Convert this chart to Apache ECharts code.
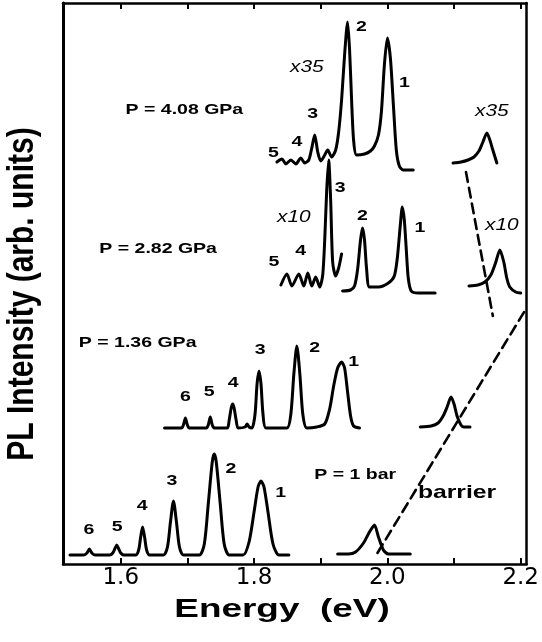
<!DOCTYPE html>
<html><head><meta charset="utf-8">
<script src="https://cdn.jsdelivr.net/npm/echarts@6/dist/echarts.min.js"></script>
<style>html,body{margin:0;padding:0;background:#fff}#c{width:542px;height:642px}</style>
</head><body><div id="c"></div>
<script>
// ---- data (energy in eV, PL intensity in arbitrary units) ----
const energyTicks = [1.6, 1.7, 1.8, 1.9, 2.0, 2.1, 2.2];
const energyTickLabels = [1.6, 1.8, 2.0, 2.2];

const spec1bar = [[1.5239,9],[1.5448,9],[1.5493,11],[1.5530,15],[1.5567,11],[1.5612,9],
 [1.5836,9],[1.5881,11],[1.5910,15],[1.5940,19],[1.5970,15],[1.6000,11],[1.6045,9],
 [1.6224,9],[1.6269,14],[1.6299,27],[1.6328,37],[1.6358,27],[1.6388,14],[1.6433,9],
 [1.6642,9],[1.6701,17],[1.6746,42],[1.6791,63],[1.6836,42],[1.6881,17],[1.6940,9],
 [1.7179,9],[1.7254,20],[1.7313,60],[1.7373,102],[1.7403,110],[1.7433,102],[1.7493,60],[1.7552,20],[1.7627,9],
 [1.7836,9],[1.7925,22],[1.8000,52],[1.8060,77],[1.8104,83],[1.8149,77],[1.8209,52],[1.8284,20],[1.8373,9],
 [1.8522,9]];
const barrier1bar = [[1.9254,10],[1.9418,10],[1.9522,12],[1.9642,21],[1.9731,32],[1.9806,39],[1.9866,27],[1.9940,14],[2.0015,10],[2.0343,10]];

const spec136 = [[1.6657,136],[1.6910,136],[1.6940,139],[1.6970,146],[1.7000,139],[1.7030,136],
 [1.7284,136],[1.7313,139],[1.7343,147],[1.7373,139],[1.7403,136],
 [1.7597,136],[1.7627,144],[1.7657,156],[1.7679,160],[1.7701,156],[1.7731,144],[1.7761,136],
 [1.7866,137],[1.7896,140],[1.7925,137],
 [1.7970,136],[1.8015,150],[1.8045,180],[1.8075,193],[1.8104,180],[1.8134,150],[1.8179,136],
 [1.8493,136],[1.8552,150],[1.8597,190],[1.8642,218],[1.8687,190],[1.8731,150],[1.8791,136],
 [1.8940,137],[1.9060,140],[1.9134,155],[1.9194,178],[1.9254,196],[1.9313,202],[1.9358,196],[1.9403,172],[1.9448,148],[1.9493,138],[1.9582,136]];
const barrier136 = [[2.0493,137],[2.0657,138],[2.0761,141],[2.0836,148],[2.0896,157],[2.0955,167],[2.1000,160],[2.1045,148],[2.1104,139],[2.1149,137],[2.1239,137]];

const spec282low = [[1.8403,279],[1.8493,290],[1.8567,278],[1.8672,290],[1.8746,278],[1.8806,291],[1.8866,278],[1.8925,287],[1.8985,277],[1.9030,289],[1.9060,324],[1.9090,374],[1.9119,404],[1.9149,364],[1.9179,302],[1.9224,288],[1.9269,296],[1.9313,310]];
const spec282high = [[1.9328,273],[1.9448,274],[1.9507,278],[1.9552,294],[1.9597,324],[1.9627,336],[1.9657,324],[1.9687,296],[1.9731,277],[1.9866,277],[2.0015,281],[2.0104,288],[2.0149,306],[2.0194,339],[2.0224,357],[2.0254,344],[2.0284,314],[2.0313,286],[2.0358,273],[2.0463,271],[2.0716,271]];
const barrier282 = [[2.1224,278],[2.1358,279],[2.1463,282],[2.1552,289],[2.1627,302],[2.1687,314],[2.1746,302],[2.1791,286],[2.1836,277],[2.1925,272],[2.2000,271]];

const spec408 = [[1.8343,402],[1.8418,405],[1.8478,400],[1.8552,404],[1.8627,400],[1.8701,406],[1.8761,401],[1.8821,404],[1.8866,416],[1.8910,429],[1.8955,412],[1.9000,403],[1.9060,409],[1.9104,414],[1.9164,407],[1.9224,414],[1.9269,432],[1.9313,464],[1.9358,509],[1.9403,542],[1.9433,514],[1.9463,464],[1.9493,424],[1.9537,409],[1.9657,410],[1.9746,413],[1.9806,418],[1.9866,429],[1.9910,452],[1.9955,499],[2.0000,526],[2.0045,506],[2.0090,459],[2.0134,414],[2.0179,398],[2.0239,394],[2.0388,394]];
const barrier408 = [[2.0985,401],[2.1104,402],[2.1209,404],[2.1299,407],[2.1373,413],[2.1433,422],[2.1493,431],[2.1537,424],[2.1582,414],[2.1642,401]];

const barrierTrendLow = [[1.9851,11],[2.2060,253]];
const barrierTrendHigh = [[2.1179,392],[2.1582,248]];

// annotations: text and anchor in data coordinates
const labels = [
 ['P = 4.08 GPa',[1.6955,454.5],'b'],['P = 2.82 GPa',[1.6561,315],'b'],['P = 1.36 GPa',[1.6254,221],'b'],
 ['P = 1 bar',[1.9518,89],'b'],['barrier',[2.1045,71],'B'],
 ['2',[1.9612,537],'b'],['1',[2.0254,481.5],'b'],['3',[1.8881,450],'b'],['4',[1.8642,422],'b'],['5',[1.8291,411],'b'],
 ['x35',[1.8791,496],'i'],['x35',[2.1567,452],'i'],
 ['3',[1.9291,376],'b'],['2',[1.9627,348],'b'],['1',[2.0488,336.5],'b'],['4',[1.8701,313],'b'],['5',[1.8299,302],'b'],
 ['x10',[1.8597,346],'i'],['x10',[2.1716,338],'i'],
 ['6',[1.6970,167],'b'],['5',[1.7328,172],'b'],['4',[1.7687,181],'b'],['3',[1.8090,214],'b'],['2',[1.8910,216.5],'b'],['1',[1.9493,202.3],'b'],
 ['6',[1.5522,34],'b'],['5',[1.5948,37],'b'],['4',[1.6321,58],'b'],['3',[1.6769,83],'b'],['2',[1.7652,95],'b'],['1',[1.8399,71],'b']
];

const chart = echarts.init(document.getElementById('c'), null, {renderer:'canvas'});
const FF = '"Liberation Sans", Arial, Helvetica, sans-serif';
const axisLineStyle = {color:'#000', width:2.5};
function lineSeries(data, dashed){
  return {type:'line', data, symbol:'none', showSymbol:false, smooth: dashed ? false : 0.25,
    lineStyle:{color:'#000', width: dashed ? 2.6 : 3, type: dashed ? [10,6] : 'solid', join:'round', cap:'round'},
    silent:true, animation:false, z: dashed ? 3 : 2};
}
const xMin = 1.5134, xMax = 2.209;
chart.setOption({
  animation:false,
  backgroundColor:'#fff',
  grid:{left:63, right:13, top:3, bottom:78, containLabel:false},
  xAxis:[
    {type:'value', min:xMin, max:xMax, position:'bottom',
     axisLine:{onZero:false, lineStyle:axisLineStyle},
     axisTick:{inside:true, length:6, customValues:energyTicks, lineStyle:{color:'#000', width:2}},
     axisLabel:{customValues:energyTickLabels, formatter:v=>Number(v).toFixed(1), color:'#000',
       fontSize:23, fontFamily:'"DejaVu Sans", sans-serif', margin:3},
     splitLine:{show:false}},
    {type:'value', min:xMin, max:xMax, position:'top',
     axisLine:{onZero:false, lineStyle:axisLineStyle},
     axisTick:{inside:true, length:6, customValues:energyTicks, lineStyle:{color:'#000', width:2}},
     axisLabel:{show:false}, splitLine:{show:false}}
  ],
  yAxis:[
    {type:'value', min:0, max:561, position:'left', axisLine:{show:true, onZero:false, lineStyle:{color:'#000', width:3}},
     axisTick:{show:false}, axisLabel:{show:false}, splitLine:{show:false}},
    {type:'value', min:0, max:561, position:'right', axisLine:{show:true, onZero:false, lineStyle:axisLineStyle},
     axisTick:{show:false}, axisLabel:{show:false}, splitLine:{show:false}}
  ],
  series:[
    lineSeries(spec1bar), lineSeries(barrier1bar),
    lineSeries(spec136), lineSeries(barrier136),
    lineSeries(spec282low), lineSeries(spec282high), lineSeries(barrier282),
    lineSeries(spec408), lineSeries(barrier408),
    lineSeries(barrierTrendLow, true), lineSeries(barrierTrendHigh, true)
  ]
});

const g = labels.map(([text, at, kind]) => {
  const p = chart.convertToPixel({xAxisIndex:0, yAxisIndex:0}, at);
  let font = 'bold 15px ' + FF;
  if (kind === 'i') font = 'italic 16px ' + FF;
  if (kind === 'B') font = 'bold 19px ' + FF;
  return {type:'text', x:p[0], y:p[1], scaleX:1.3, silent:true,
    style:{text, font, fill:'#000', textAlign:'center', textVerticalAlign:'middle'}};
});
g.push({type:'text', x:23, y:294, rotation:Math.PI/2, scaleY:1.2, silent:true,
  style:{text:'PL Intensity (arb. units)', font:'bold 30px ' + FF, fill:'#000', textAlign:'center', textVerticalAlign:'middle'}});
g.push({type:'text', x:282, y:610, scaleX:1.42, silent:true,
  style:{text:'Energy  (eV)', font:'bold 26px ' + FF, fill:'#000', textAlign:'center', textVerticalAlign:'middle'}});
chart.setOption({graphic:g});
</script></body></html>
